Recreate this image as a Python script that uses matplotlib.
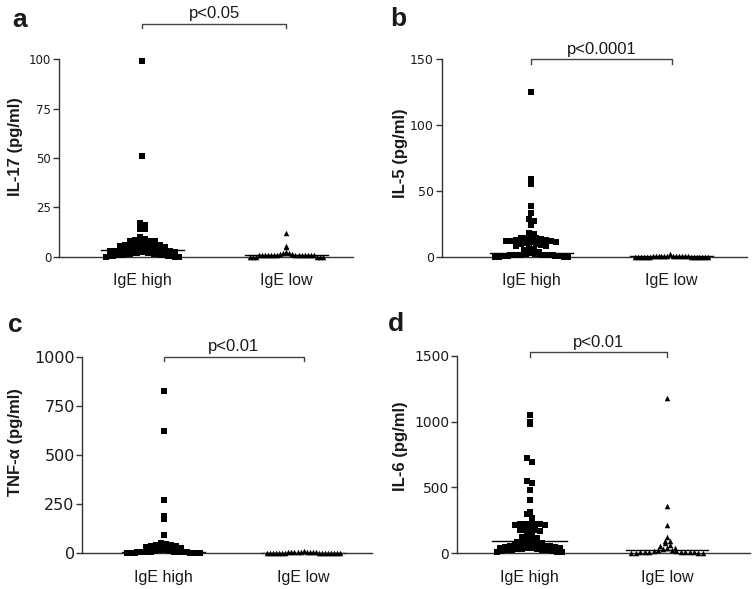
import matplotlib

matplotlib.use("Agg")
import matplotlib.pyplot as plt
import numpy as np

plt.rcParams["font.family"] = ["Liberation Sans", "DejaVu Sans"]

groups = ["IgE high", "IgE low"]

# IL-17 (pg/ml)
il17_high = [99, 51, 17, 16, 14, 14, 10,
             9, 8.5, 8, 8, 7.8,
             7.4, 7, 7, 6.8, 6.5, 6, 6, 5.8, 5.5, 5.2,
             4.9, 4.5, 4.5, 4.2, 4, 4, 3.8, 3.5, 3.5, 3.3, 3, 3, 2.8, 2.6,
             2.4, 2.2, 2, 2, 2, 1.8, 1.5, 1.5, 1.5, 1.2, 1, 1, 1, 1, 0.8, 0.5,
             0.5, 0.5, 0.2, 0, 0, 0]
il17_low = [12, 5.5, 5, 2.5, 2, 2, 1.5, 1.5, 1, 1, 1, 1, 1, 1, 1, 1, 1, 1, 1, 1,
            1, 1, 0, 0, 0, 0, 0, 0]

# IL-5 (pg/ml)
il5_high = [125, 59, 55, 39, 33, 29, 27, 24, 18, 17,
            14.5, 14, 14, 14, 13.5, 13, 12.5, 12, 12, 11.8, 11.6,
            11, 10.5, 10, 9.5, 9, 8.5, 8,
            7, 6, 5, 4,
            3.5, 3, 3, 2.5, 2.5, 2, 2, 2, 1.5, 1.5, 1.5, 1.5, 1, 1, 1, 1, 1, 1,
            1, 1, 0.5, 0.5, 0.5, 0.5, 0.5, 0.5, 0.5, 0.5, 0, 0, 0, 0, 0, 0]
il5_low = [2, 0.3, 0.3, 0.3, 0.3, 0.3, 0.3, 0.3, 0.3, 0.3, 0.3, 0.3, 0.3, 0.2, 0.2, 0.2,
           0.2, 0.2, 0.2, 0.2, 0.2, 0.2, 0.2, 0.2, 0.2, 0.2]

# TNF-alpha (pg/ml)
tnf_high = [825, 620, 270, 190, 175, 90, 50, 45, 42, 40, 38, 35, 30, 28,
            24, 20, 20, 18, 15, 15, 12, 10, 10, 10, 8, 8, 8, 6, 6, 5, 5, 5, 5, 4, 4,
            3, 3, 3, 2, 2, 2, 2, 1, 1, 1, 0, 0, 0, 0]
tnf_low = [10, 8, 6, 5, 5, 4, 4, 3, 3, 3, 2, 2, 2, 2, 1, 1, 1, 1, 1, 0, 0, 0, 0, 0, 0]

# IL-6 (pg/ml)
il6_high = [1050, 1000, 980, 720, 695, 550, 535, 480, 400, 313, 298, 267,
            222, 221, 220, 219, 218, 216, 215,
            180, 178, 175, 172, 170,
            145, 140, 120, 115,
            110, 100, 95, 90, 85, 80,
            75, 70, 70, 65, 60, 60, 55, 50, 50, 45, 45, 40, 40,
            35, 35, 30, 30, 30, 25, 25, 20, 20, 15, 15, 10, 8, 5]
il6_low = [1180, 360, 210, 120, 95, 90, 75, 60, 50, 40, 35, 30, 25, 20, 15, 15, 10, 10,
           10, 5, 5, 5, 5, 0, 0, 0, 0]

panels = [
    ("a", "IL-17 (pg/ml)", il17_high, il17_low, 100, [0, 25, 50, 75, 100], "p<0.05"),
    ("b", "IL-5 (pg/ml)", il5_high, il5_low, 150, [0, 50, 100, 150], "p<0.0001"),
    ("c", "TNF-\u03b1 (pg/ml)", tnf_high, tnf_low, 1000, [0, 250, 500, 750, 1000], "p<0.01"),
    ("d", "IL-6 (pg/ml)", il6_high, il6_low, 1500, [0, 500, 1000, 1500], "p<0.01"),
]

W, H = 755, 589
# axes rectangles in figure fractions
rects = [
    [0.078, 0.564, 0.389, 0.335],
    [0.585, 0.564, 0.405, 0.335],
    [0.109, 0.061, 0.384, 0.333],
    [0.605, 0.061, 0.388, 0.335],
]
xlims = [(-0.58, 1.46), (-0.64, 1.54), (-0.58, 1.49), (-0.53, 1.6)]
bracket_y = [1.18, 1.0, 1.0, 1.017]
tick_fs = [8.5, 9, 11.5, 10]
letter_px = [(12, 8), (390, 7), (8, 313), (388, 312)]
ylabel_px = [(16, 147), (401, 153), (16, 442), (401, 446)]

INK = "#1a1a1a"


def swarm_x(ax, values, center, marker_px, max_px):
    """Prism-style column scatter: values binned by pixel height, each bin spread sideways."""
    fig = ax.figure
    pos = ax.get_position()
    w_px = pos.width * fig.get_figwidth() * fig.dpi
    h_px = pos.height * fig.get_figheight() * fig.dpi
    x0, x1 = ax.get_xlim()
    y0, y1 = ax.get_ylim()
    v = np.asarray(values, dtype=float)
    bins = np.floor((v - y0) / (y1 - y0) * h_px / marker_px).astype(int)
    xs = np.zeros(len(v))
    widest = 0
    for b in np.unique(bins):
        idx = np.where(bins == b)[0]
        idx = idx[np.argsort(-v[idx])]  # highest values go to the middle
        n = len(idx)
        step = min(marker_px, max_px / n)
        offs = (np.arange(n) - (n - 1) / 2) * step
        offs = offs[np.argsort(np.abs(offs), kind="stable")]
        widest = max(widest, offs.max() - offs.min())
        xs[idx] = center + offs * (x1 - x0) / w_px
    return xs, (widest + marker_px * 2) * (x1 - x0) / w_px


fig = plt.figure(figsize=(W / 100, H / 100), dpi=100)

for k, (letter, ylabel, high, low, ymax, yticks, ptext) in enumerate(panels):
    ax = fig.add_axes(rects[k])
    ax.set_xlim(*xlims[k])
    ax.set_ylim(0, ymax)
    for s in ("top", "right"):
        ax.spines[s].set_visible(False)
    for s in ("left", "bottom"):
        ax.spines[s].set_color("#333333")
        ax.spines[s].set_linewidth(1.0)

    for gi, (vals, marker, msz) in enumerate([(high, "s", 14), (low, "^", 16)]):
        xs, width = swarm_x(ax, vals, gi, 5.0, 76)
        ax.scatter(xs, vals, marker=marker, s=msz, color="black", linewidths=0,
                   clip_on=False, zorder=3)
        med = np.median(vals)
        ax.plot([gi - width / 2, gi + width / 2], [med, med], color="black",
                lw=1.0, clip_on=False, zorder=2)

    ax.set_xticks([0, 1])
    ax.set_xticklabels(groups, fontsize=11.5, color=INK)
    ax.tick_params(axis="x", length=0, pad=12)
    ax.set_yticks(yticks)
    ax.set_yticklabels([str(t) for t in yticks], fontsize=tick_fs[k], color=INK,
                       fontfamily="DejaVu Sans")
    ax.tick_params(axis="y", length=4, width=1, color="#333333", pad=1.5)

    fig.text(ylabel_px[k][0] / W, 1 - ylabel_px[k][1] / H, ylabel, rotation=90,
             fontsize=12, fontweight="bold", color=INK, ha="center", va="center")

    # significance bracket
    by = bracket_y[k] * ymax
    drop = 0.022 * ymax
    ax.plot([0, 0, 1, 1], [by - drop, by, by, by - drop], color="#444444", lw=1.0,
            clip_on=False)
    ax.annotate(ptext, (0.5, by), xytext=(0, 2), textcoords="offset points",
                ha="center", va="bottom", fontsize=12, color=INK, annotation_clip=False)

    fig.text(letter_px[k][0] / W, 1 - letter_px[k][1] / H, letter, fontsize=19,
             fontweight="bold", ha="left", va="top", color=INK)

fig.savefig("out.png", dpi=100)
